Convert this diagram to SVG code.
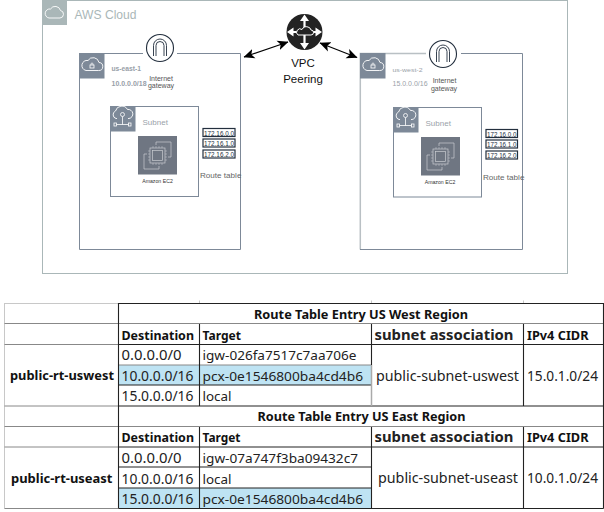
<svg xmlns="http://www.w3.org/2000/svg" width="604" height="512" viewBox="0 0 604 512">
<defs>
<marker id="ah" viewBox="0 0 10 10" refX="9.500" refY="5" markerWidth="11" markerHeight="11" markerUnits="userSpaceOnUse" orient="auto-start-reverse"><path d="M0 0.500L10 5L0 9.500L2.500 5Z" fill="#000"/></marker>
<g id="cloudLock"><path d="M6.500 18h12.500a4 4 0 0 0 .5-8a6 6 0 0 0-11-2a4.700 4.700 0 0 0-2 10Z" fill="none" stroke="#fff" stroke-width=".9"/><rect x="10.500" y="12.500" width="4" height="3" fill="none" stroke="#fff" stroke-width=".8"/><path d="M11.500 12.500v-1a1 1 0 0 1 2 0v1" fill="none" stroke="#fff" stroke-width=".7"/></g>
<g id="cloudNet"><path d="M7 13h-1a4 4 0 0 1-.5-7.500a6.500 6.500 0 0 1 12-1.500a4.500 4.500 0 0 1 1.500 9h-1" fill="none" stroke="#fff" stroke-width=".9"/><circle cx="12.500" cy="9" r="2" fill="none" stroke="#fff" stroke-width=".8"/><path d="M12.500 11v8M6.500 19h12" fill="none" stroke="#fff" stroke-width=".8"/><rect x="4" y="17.500" width="2.500" height="3" fill="none" stroke="#fff" stroke-width=".8"/><rect x="18.500" y="17.500" width="2.500" height="3" fill="none" stroke="#fff" stroke-width=".8"/></g>
<g id="chip"><rect x="12" y="12" width="15" height="15" fill="none" stroke="#c9ccd1" stroke-width=".7"/><rect x="14.500" y="14.500" width="10" height="10" fill="none" stroke="#c9ccd1" stroke-width=".7"/><path d="M15 12V10M18 12V10M21 12V10M24 12V10M15 29V27M18 29V27M21 29V27M24 29V27M10 15H12M10 18H12M10 21H12M10 24H12M27 15H29M27 18H29M27 21H29M27 24H29" stroke="#c9ccd1" stroke-width=".5"/><path d="M18 9V6H33V21H30M9 18H6V33H21V30" fill="none" stroke="#c9ccd1" stroke-width=".7"/></g>
<g id="igw"><circle cx="0" cy="0" r="13.500" fill="#fff" stroke="#232f3e" stroke-width="1.100"/><path d="M-6.500 8V-2.500a6.500 6.500 0 0 1 13 0V8M-4 8V-2.500a4 4 0 0 1 8 0V8" fill="none" stroke="#232f3e" stroke-width=".9"/></g>
</defs>
<style>
text{font-family:"Liberation Sans",Arial,sans-serif}
.box{fill:none;stroke:#7d8998;stroke-width:1}
.outer{fill:none;stroke:#aab7b8;stroke-width:1}
.mut{font-size:7px;fill:#9aa2a9}
.mb{font-weight:700;fill:#98a0a8}
.lbl{font-size:7px;fill:#555;text-anchor:middle}
.sub{font-size:8px;fill:#9aa2a9}
.ec{font-size:5.200px;fill:#333;text-anchor:middle}
.rte{font-size:8.100px;fill:#666}
.rb{fill:#fff;stroke:#232f3e;stroke-width:1.200}
.rl{font-size:7px;fill:#232f3e}
.c text{font-family:"Noto Sans",sans-serif;fill:#222}
.c .t{font-size:14px}
.c .m{font-size:13px}
.c .b{font-weight:700;font-size:12.500px;fill:#111}
.c .s{font-weight:700;font-size:13.500px;fill:#222}
.l{stroke:#c8c8c8;stroke-width:1;fill:none}
.k{stroke:#222;stroke-width:1.100;fill:none}
.g{stroke:#888;stroke-width:1;fill:none}
.h{stroke:#aaa;stroke-width:1.500;fill:none}
</style>
<rect width="604" height="512" fill="#fff"/>
<g id="aws-cloud"><rect class="outer" x="42.500" y="0.500" width="525" height="273"/><rect x="42" y="0" width="25" height="25" fill="#aab7b8"/><path d="M49 18h11a3.800 3.800 0 0 0 .5-7.500a5.500 5.500 0 0 0-10-1.500a4.500 4.500 0 0 0-1.500 9Z" fill="none" stroke="#fff" stroke-width=".9"/><text x="74.500" y="19" font-size="12" fill="#aab7b8" textLength="62" lengthAdjust="spacingAndGlyphs">AWS Cloud</text></g>
<g id="vpc-east"><path class="box" d="M143 53.500H79.500V249.500H240.500V53.500H177"/><rect x="79" y="53" width="25.500" height="25.500" fill="#7d8998"/><use href="#cloudLock" x="79.500" y="52.500"/><text class="mb" x="111.500" y="71" font-size="6.300" textLength="29.500" lengthAdjust="spacingAndGlyphs">us-east-1</text><text class="mb" x="111.500" y="86" font-size="7">10.0.0.0/18</text></g>
<g id="igw-east"><use href="#igw" x="160" y="48"/><text x="161" y="81" class="lbl">Internet</text><text x="161" y="88" class="lbl">gateway</text></g>
<g id="subnet-east"><rect class="box" x="110.500" y="106.500" width="88" height="90" fill="#fff"/><rect x="110" y="106" width="25.500" height="25.500" fill="#7d8998"/><use href="#cloudNet" x="110" y="105.500"/><text class="sub" x="142.500" y="125">Subnet</text></g>
<g id="ec2-east"><rect x="138" y="136" width="39" height="38.500" fill="#6f7682"/><use href="#chip" x="138" y="136"/><text class="ec" x="157.500" y="182.500">Amazon EC2</text></g>
<g id="rt-east"><rect class="rb" x="203" y="128.500" width="32" height="8"/><rect class="rb" x="203" y="139" width="32" height="8"/><rect class="rb" x="203" y="150" width="32" height="8"/><text class="rl" x="204" y="135.500" textLength="30" lengthAdjust="spacingAndGlyphs">172.16.0.0</text><text class="rl" x="204" y="146" textLength="30" lengthAdjust="spacingAndGlyphs">172.16.1.0</text><text class="rl" x="204" y="157" textLength="30" lengthAdjust="spacingAndGlyphs">172.16.2.0</text><text class="rte" x="200" y="178">Route table</text></g>
<g id="vpc-west"><path d="M426 53.500H360.300V249.500" fill="none" stroke="#b9c0c4" stroke-width="1.500"/><path class="box" d="M360 249.500H522.500V53.500H461"/><rect x="360" y="53" width="25.500" height="25.500" fill="#7d8998"/><use href="#cloudLock" x="360.500" y="52.500"/><text class="mut" x="392.500" y="71.500" font-size="6.300" style="font-size:6.200px" textLength="30" lengthAdjust="spacingAndGlyphs">us-west-2</text><text class="mut" x="392.500" y="86">15.0.0.0/16</text></g>
<g id="igw-west"><use href="#igw" x="443" y="54"/><text x="444.500" y="83" class="lbl">Internet</text><text x="444" y="91" class="lbl">gateway</text></g>
<g id="subnet-west"><rect class="box" x="393.500" y="107.500" width="88" height="89.500" fill="#fff"/><rect x="393" y="107" width="25.500" height="25.500" fill="#7d8998"/><use href="#cloudNet" x="393" y="106.500"/><text class="sub" x="425.500" y="126">Subnet</text></g>
<g id="ec2-west"><rect x="421" y="137" width="39" height="38.500" fill="#6f7682"/><use href="#chip" x="421" y="137"/><text class="ec" x="440" y="183.500">Amazon EC2</text></g>
<g id="rt-west"><rect class="rb" x="486" y="129.500" width="31.500" height="8"/><rect class="rb" x="486" y="140" width="31.500" height="8"/><rect class="rb" x="486" y="151" width="31.500" height="8"/><text class="rl" x="487" y="136.500" textLength="29.500" lengthAdjust="spacingAndGlyphs">172.16.0.0</text><text class="rl" x="487" y="147" textLength="29.500" lengthAdjust="spacingAndGlyphs">172.16.1.0</text><text class="rl" x="487" y="158" textLength="29.500" lengthAdjust="spacingAndGlyphs">172.16.2.0</text><text class="rte" x="483" y="180">Route table</text></g>
<g id="vpc-peering"><circle cx="304.500" cy="32" r="18" fill="#232323"/><path d="M304.500 18v28M290.500 32h28" stroke="#fff" stroke-width="2.200"/><path d="M304.500 14.500l-4.500 6.500h9ZM304.500 49.500l-4.500-6.500h9ZM287 32l6.500-4.500v9ZM322 32l-6.500-4.500v9Z" fill="#fff"/><path d="M298 35h13a2.500 2.500 0 0 0 0-5a4 4 0 0 0-3-3a5 5 0 0 0-6 2.500a3 3 0 0 0-4 5.500Z" fill="#232323" stroke="#fff"/><text x="303" y="67" font-size="11.500" fill="#111" text-anchor="middle">VPC</text><text x="303" y="83" font-size="11.500" fill="#111" text-anchor="middle">Peering</text></g>
<g id="connectors" fill="none" stroke="#000" stroke-width="1.200"><path d="M244 57L288 42" marker-start="url(#ah)" marker-end="url(#ah)"/><path d="M320 43L357 57.500" marker-start="url(#ah)" marker-end="url(#ah)"/></g>
<g id="table">
<rect x="119" y="365" width="252" height="20" fill="#bee3f3"/><rect x="119" y="488" width="252" height="20" fill="#bee3f3"/>
<path class="l" d="M4.500 303V508.500M4.500 303.500H118M199.500 300.500V303M371.500 300.500V303M523.500 300.500V303"/>
<path class="g" d="M4.500 323.500H603.500M4.500 344.500H118M4.500 406H118M4.500 426.500H603.500M4.500 447H118M4.500 508.500H118M119 365H371"/>
<path class="k" d="M118.500 303V508.500M118.500 303.500H603.500M603.500 303V508.500M118.500 344.500H603.500M199.500 324V406M199.500 427V508.500M118.500 447H603.500M118.500 406H603.500M371.500 427V508.500M523.500 324V406M523.500 427V508.500M118.500 508.500H603.500M371.500 324V365M118.500 385H371M118.500 467H371M118.500 488H371"/>
<path class="h" d="M371.500 365V406"/>
<g class="c">
<text class="b" x="254" y="318.500" textLength="214" lengthAdjust="spacingAndGlyphs">Route Table Entry US West Region</text>
<text class="b" x="121.500" y="339.500" textLength="72.500" lengthAdjust="spacingAndGlyphs">Destination</text><text class="b" x="202.500" y="339.500" textLength="38.500" lengthAdjust="spacingAndGlyphs">Target</text><text class="s" x="374.500" y="339.500" textLength="139" lengthAdjust="spacingAndGlyphs">subnet association</text><text class="b" x="527" y="339.500" textLength="61.500" lengthAdjust="spacingAndGlyphs">IPv4 CIDR</text>
<text class="b" x="10" y="379.500" textLength="104" lengthAdjust="spacingAndGlyphs">public-rt-uswest</text>
<text class="t" x="121.500" y="360" textLength="60" lengthAdjust="spacingAndGlyphs">0.0.0.0/0</text><text class="m" x="202.500" y="360" textLength="154" lengthAdjust="spacingAndGlyphs">igw-026fa7517c7aa706e</text>
<text class="t" x="121.500" y="380.500" textLength="72" lengthAdjust="spacingAndGlyphs">10.0.0.0/16</text><text class="m" x="202.500" y="380.500" textLength="160.500" lengthAdjust="spacingAndGlyphs">pcx-0e1546800ba4cd4b6</text>
<text class="t" x="121.500" y="401" textLength="72" lengthAdjust="spacingAndGlyphs">15.0.0.0/16</text><text class="m" x="202.500" y="401" textLength="29" lengthAdjust="spacingAndGlyphs">local</text>
<text class="t" x="376" y="380.500" textLength="143" lengthAdjust="spacingAndGlyphs">public-subnet-uswest</text><text class="t" x="527" y="380.500" textLength="71" lengthAdjust="spacingAndGlyphs">15.0.1.0/24</text>
<text class="b" x="257.500" y="421" textLength="208" lengthAdjust="spacingAndGlyphs">Route Table Entry US East Region</text>
<text class="b" x="121.500" y="442" textLength="72.500" lengthAdjust="spacingAndGlyphs">Destination</text><text class="b" x="202.500" y="442" textLength="38" lengthAdjust="spacingAndGlyphs">Target</text><text class="s" x="374.500" y="442" textLength="139" lengthAdjust="spacingAndGlyphs">subnet association</text><text class="b" x="527" y="442" textLength="61.500" lengthAdjust="spacingAndGlyphs">IPv4 CIDR</text>
<text class="b" x="11" y="482.500" textLength="101.500" lengthAdjust="spacingAndGlyphs">public-rt-useast</text>
<text class="t" x="121.500" y="462.500" textLength="60" lengthAdjust="spacingAndGlyphs">0.0.0.0/0</text><text class="m" x="202.500" y="462.500" textLength="155.500" lengthAdjust="spacingAndGlyphs">igw-07a747f3ba09432c7</text>
<text class="t" x="121.500" y="483.500" textLength="72" lengthAdjust="spacingAndGlyphs">10.0.0.0/16</text><text class="m" x="202.500" y="483.500" textLength="29" lengthAdjust="spacingAndGlyphs">local</text>
<text class="t" x="121.500" y="504" textLength="72" lengthAdjust="spacingAndGlyphs">15.0.0.0/16</text><text class="m" x="202.500" y="504" textLength="160.500" lengthAdjust="spacingAndGlyphs">pcx-0e1546800ba4cd4b6</text>
<text class="t" x="378" y="483" textLength="140" lengthAdjust="spacingAndGlyphs">public-subnet-useast</text><text class="t" x="527" y="483" textLength="71" lengthAdjust="spacingAndGlyphs">10.0.1.0/24</text>
</g></g>
</svg>
